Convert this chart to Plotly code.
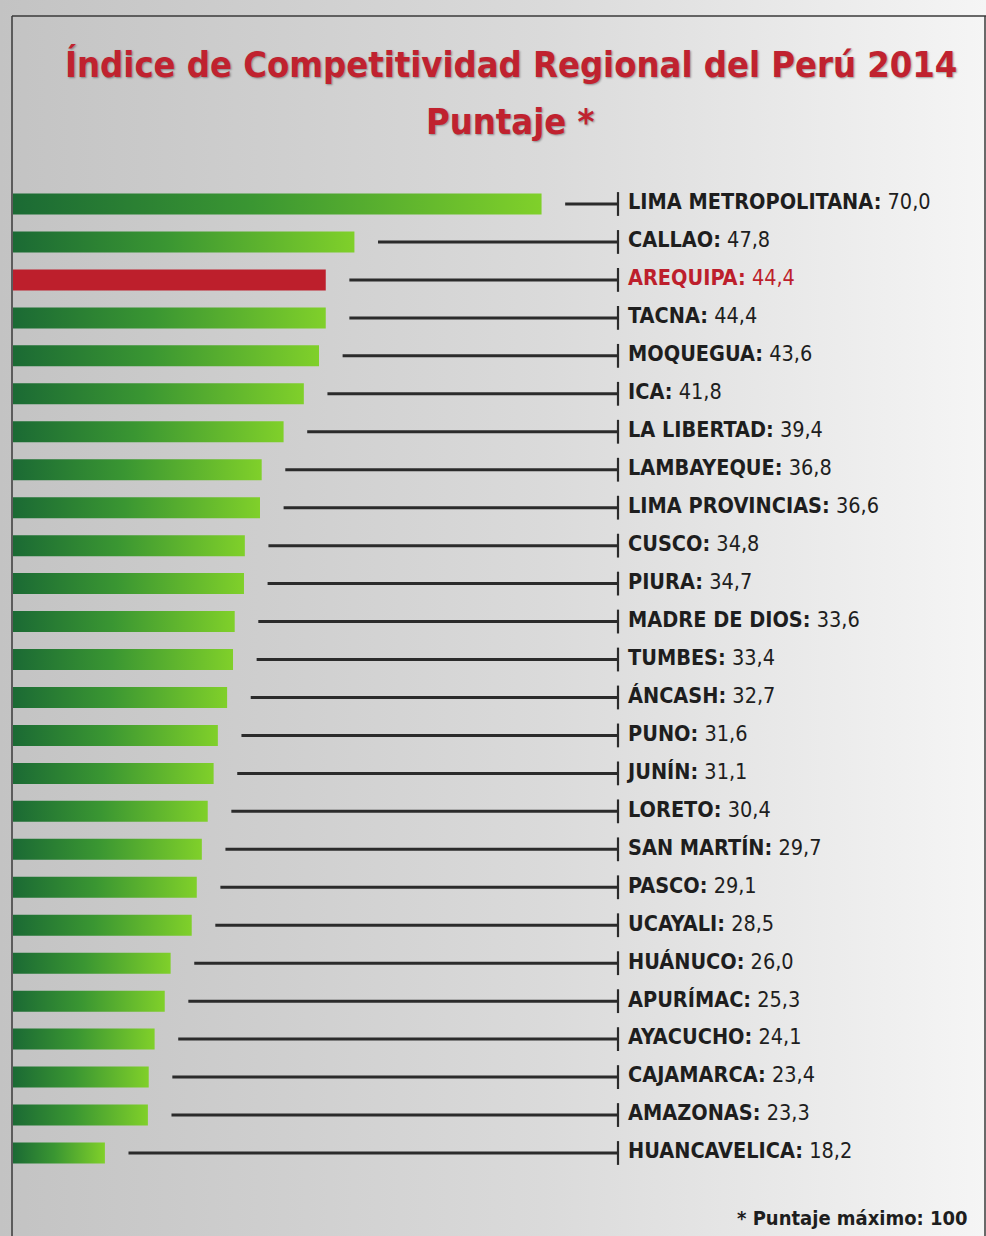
import base64
import plotly.graph_objects as go

# ---------------- data ----------------
regions = [
    "LIMA METROPOLITANA", "CALLAO", "AREQUIPA", "TACNA", "MOQUEGUA", "ICA",
    "LA LIBERTAD", "LAMBAYEQUE", "LIMA PROVINCIAS", "CUSCO", "PIURA",
    "MADRE DE DIOS", "TUMBES", "ÁNCASH", "PUNO", "JUNÍN", "LORETO",
    "SAN MARTÍN", "PASCO", "UCAYALI", "HUÁNUCO", "APURÍMAC", "AYACUCHO",
    "CAJAMARCA", "AMAZONAS", "HUANCAVELICA",
]
scores = [
    70.0, 47.8, 44.4, 44.4, 43.6, 41.8, 39.4, 36.8, 36.6, 34.8, 34.7,
    33.6, 33.4, 32.7, 31.6, 31.1, 30.4, 29.7, 29.1, 28.5, 26.0, 25.3,
    24.1, 23.4, 23.3, 18.2,
]
highlight = "AREQUIPA"

title_line1 = "Índice de Competitividad Regional del Perú 2014"
title_line2 = "Puntaje *"
footnote = "* Puntaje máximo: 100"

# ---------------- layout geometry ----------------
W, H = 986, 1236
PX_PER_UNIT = 8.43          # horizontal scale
BAR_LEFT_PX = 13
BAR_LEFT_VAL = 7.3          # value at which bars start (left frame)
X_MIN = BAR_LEFT_VAL - BAR_LEFT_PX / PX_PER_UNIT
X_MAX = X_MIN + W / PX_PER_UNIT

ROW0_PX = 204
ROW_PX = 37.96
Y_TOP = -ROW0_PX / ROW_PX
Y_BOT = (H - ROW0_PX) / ROW_PX


def px_to_x(px):
    return X_MIN + px / PX_PER_UNIT


LINE_END = px_to_x(618)
LABEL_X = px_to_x(628)
GAP = 2.8
HALF = 10.5 / ROW_PX

GREEN_SCALE = [[0, "#1b6a34"], [0.45, "#3a9632"], [1, "#80d02a"]]
RED = "#bd1f2c"
DARK = "#2b2b2b"
FONT = "DejaVu Sans Condensed, Liberation Sans Narrow, Arial Narrow, sans-serif"

fig = go.Figure()

# bars (gradient filled polygons, one per region)
for i, (name, v) in enumerate(zip(regions, scores)):
    xs = [BAR_LEFT_VAL, v, v, BAR_LEFT_VAL, BAR_LEFT_VAL]
    ys = [i - HALF, i - HALF, i + HALF, i + HALF, i - HALF]
    kw = dict(x=xs, y=ys, mode="lines", fill="toself", line=dict(width=0),
              hoverinfo="skip", showlegend=False)
    if name == highlight:
        kw["fillcolor"] = RED
    else:
        kw["fillgradient"] = dict(type="horizontal", colorscale=GREEN_SCALE)
    fig.add_trace(go.Scatter(**kw))

# leader lines
lx, ly = [], []
for i, v in enumerate(scores):
    lx += [v + GAP, LINE_END, None]
    ly += [i, i, None]
fig.add_trace(go.Scatter(x=lx, y=ly, mode="lines",
                         line=dict(color=DARK, width=3),
                         hoverinfo="skip", showlegend=False))
# end ticks
fig.add_trace(go.Scatter(x=[LINE_END] * len(scores), y=list(range(len(scores))),
                         mode="markers",
                         marker=dict(symbol="line-ns", size=17,
                                     line=dict(color=DARK, width=2.2)),
                         hoverinfo="skip", showlegend=False))

# labels
labels = [f"<b>{n}:</b> {v:.1f}".replace(".", ",") for n, v in zip(regions, scores)]
colors = [RED if n == highlight else "#1e1e1e" for n in regions]
fig.add_trace(go.Scatter(x=[LABEL_X] * len(scores), y=list(range(len(scores))),
                         mode="text", text=labels, textposition="middle right",
                         textfont=dict(family=FONT, size=21.5, color=colors),
                         hoverinfo="skip", showlegend=False))

# background gradient
svg = ('<svg xmlns="http://www.w3.org/2000/svg" width="200" height="200" '
       'preserveAspectRatio="none"><defs><linearGradient id="g" x1="0" x2="1" '
       'y1="0" y2="0"><stop offset="0" stop-color="#c3c3c3"/>'
       '<stop offset="0.55" stop-color="#dadada"/>'
       '<stop offset="1" stop-color="#f5f5f5"/></linearGradient></defs>'
       '<rect width="200" height="200" fill="url(#g)"/></svg>')
src = "data:image/svg+xml;base64," + base64.b64encode(svg.encode()).decode()

title_font = dict(family=FONT, size=36, color="#c0222f", weight="bold",
                  shadow="1px 1px 2px rgba(0,0,0,0.35)")

fig.update_layout(
    width=W, height=H,
    margin=dict(l=0, r=0, t=0, b=0),
    paper_bgcolor="#e2e2e2",
    plot_bgcolor="rgba(0,0,0,0)",
    xaxis=dict(range=[X_MIN, X_MAX], visible=False, fixedrange=True),
    yaxis=dict(range=[Y_BOT, Y_TOP], visible=False, fixedrange=True),
    images=[dict(source=src, xref="paper", yref="paper", x=0, y=1,
                 sizex=1, sizey=1, xanchor="left", yanchor="top",
                 sizing="stretch", layer="below")],
    shapes=[
        dict(type="line", xref="paper", yref="paper",
             x0=12 / W, x1=12 / W, y0=0, y1=1 - 16 / H,
             line=dict(color="#3a3a3a", width=1.5)),
        dict(type="line", xref="paper", yref="paper",
             x0=12 / W, x1=1, y0=1 - 16 / H, y1=1 - 16 / H,
             line=dict(color="#3a3a3a", width=1.5)),
        dict(type="line", xref="paper", yref="paper",
             x0=985 / W, x1=985 / W, y0=0, y1=1 - 16 / H,
             line=dict(color="#3a3a3a", width=1.5)),
    ],
    annotations=[
        dict(text=title_line1, xref="paper", yref="paper",
             x=511 / W, y=1 - 64 / H, xanchor="center", yanchor="middle",
             showarrow=False, font=title_font),
        dict(text=title_line2, xref="paper", yref="paper",
             x=511 / W, y=1 - 122 / H, xanchor="center", yanchor="middle",
             showarrow=False, font=title_font),
        dict(text=f"<b>{footnote}</b>", xref="paper", yref="paper",
             x=970 / W, y=1 - 1218 / H, xanchor="right", yanchor="middle",
             showarrow=False,
             font=dict(family=FONT, size=20, color="#1e1e1e")),
    ],
)

fig.write_html("out.html",
               config={"displayModeBar": False},
               post_script="document.body.style.margin='0';document.body.style.padding='0';")
